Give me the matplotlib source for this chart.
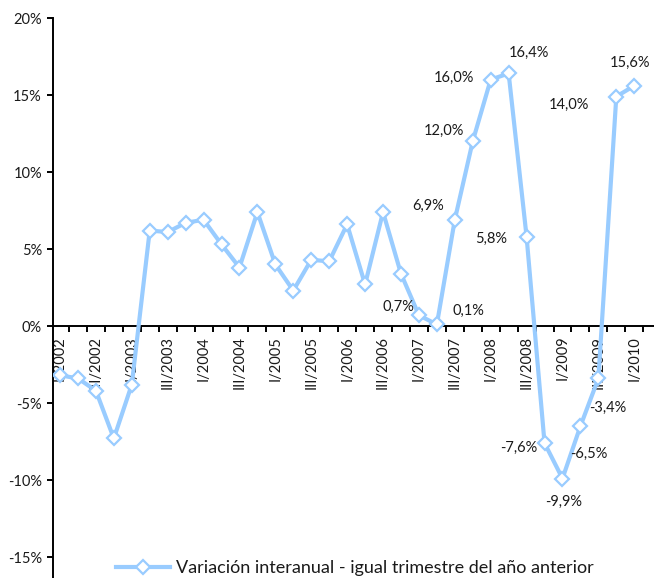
import numpy as np
import matplotlib
matplotlib.use("Agg")
import matplotlib.pyplot as plt

plt.rcParams['font.family'] = ['Lato', 'DejaVu Sans']

years = list(range(2002, 2011))
quarters = ['I', 'II', 'III', 'IV']
periods = [f"{q}/{y}" for y in years for q in quarters][:33]

values = [-3.2, -3.4, -4.2, -7.3, -3.8, 6.2, 6.1, 6.7, 6.9, 5.3, 3.8, 7.4,
          4.0, 2.3, 4.3, 4.2, 6.6, 2.7, 7.4, 3.4, 0.7, 0.1, 6.9, 12.0,
          16.0, 16.4, 5.8, -7.6, -9.9, -6.5, -3.4, 14.9, 15.6]

# data labels as printed on the original chart
point_labels = {20: '0,7%', 21: '0,1%', 22: '6,9%', 23: '12,0%', 24: '16,0%',
                25: '16,4%', 26: '5,8%', 27: '-7,6%', 28: '-9,9%', 29: '-6,5%',
                30: '-3,4%', 31: '14,0%', 32: '15,6%'}

series_name = 'Variación interanual - igual trimestre del año anterior'

# label offsets in pixels (dx, dy)
offsets = {20: (-20, 8), 21: (32, 14), 22: (-27, 14), 23: (-29, 10),
           24: (-37, 2), 25: (20, 21), 26: (-35, -2), 27: (-26, -5),
           28: (1, -23), 29: (8, -28), 30: (9, -29), 31: (-47, -8),
           32: (-4, 23)}

blue = '#99CCFF'
txt = '#1a1a1a'

fig = plt.figure(figsize=(6.54, 5.78), dpi=100)
ax = fig.add_axes([53 / 654, 0, 601 / 654, 560 / 578])

x = np.arange(len(values))
ax.plot(x, values, color=blue, lw=3, marker='D', markersize=7.5,
        markerfacecolor='white', markeredgecolor=blue, markeredgewidth=1.6,
        label=series_name, zorder=3)

for i, lab in point_labels.items():
    dx, dy = offsets[i]
    ax.annotate(lab, (x[i], values[i]), xytext=(dx, dy), textcoords='offset pixels',
                ha='center', va='center', fontsize=10.5, color=txt)

ax.set_xlim(-0.39, 33.1)
ax.set_ylim(-16.36, 20)

for s in ['top', 'right']:
    ax.spines[s].set_visible(False)
ax.spines['bottom'].set_position(('data', 0))
ax.spines['bottom'].set_linewidth(1.4)
ax.spines['left'].set_linewidth(1.4)

ax.set_yticks(np.arange(-15, 21, 5))
ax.set_yticklabels([f"{v}%" for v in range(-15, 21, 5)])
ax.tick_params(axis='y', direction='out', length=4, width=1.4, labelsize=10.5,
               labelcolor=txt, pad=4)

ax.set_xticks(np.arange(0.5, 33, 1))
ax.set_xticks(np.arange(0, 33, 2), minor=True)
ax.set_xticklabels([])
ax.set_xticklabels(periods[::2], minor=True, rotation=90, fontsize=10.5, color=txt)
ax.tick_params(axis='x', which='major', direction='out', length=4, width=1.4)
ax.tick_params(axis='x', which='minor', length=0, pad=7)

leg = ax.legend(loc='center left', bbox_to_anchor=(116 / 654, 1 - 568 / 578),
                bbox_transform=fig.transFigure, frameon=False, fontsize=13,
                handlelength=3.0, handletextpad=0.3, borderpad=0, borderaxespad=0)
for t in leg.get_texts():
    t.set_color(txt)

fig.savefig('out.png', dpi=100)
